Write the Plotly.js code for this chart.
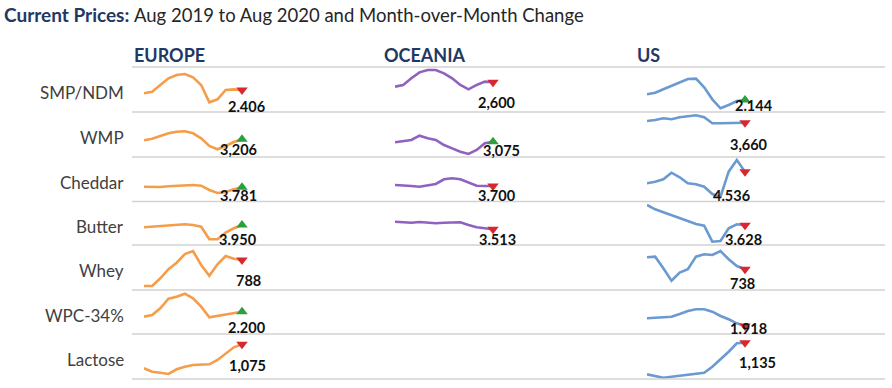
<!DOCTYPE html>
<html>
<head>
<meta charset="utf-8">
<script src="https://cdn.plot.ly/plotly-3.0.1.min.js"></script>
<style>
  html, body { margin: 0; padding: 0; background: #ffffff; }
  #chart { width: 892px; height: 388px; }
</style>
</head>
<body>
<div id="chart"></div>
<script>
// ---------------- DATA ----------------
const months = ['Aug-19','Sep-19','Oct-19','Nov-19','Dec-19','Jan-20','Feb-20','Mar-20','Apr-20','May-20','Jun-20','Jul-20','Aug-20'];
const products = ['SMP/NDM','WMP','Cheddar','Butter','Whey','WPC-34%','Lactose'];
const regions = ['EUROPE','OCEANIA','US'];

const europeSMP     = [2357, 2381, 2481, 2581, 2631, 2646, 2596, 2481, 2221, 2266, 2406, 2416, 2406];
const europeWMP     = [3191, 3215, 3256, 3296, 3320, 3326, 3296, 3221, 3106, 3056, 3106, 3166, 3206];
const europeCheddar = [3793, 3787, 3787, 3801, 3813, 3827, 3827, 3813, 3727, 3667, 3687, 3741, 3781];
const europeButter  = [3904, 3916, 3936, 3950, 3956, 3964, 3950, 3916, 3664, 3664, 3796, 3884, 3950];
const europeWhey    = [580, 580, 642, 714, 766, 836, 860, 748, 662, 754, 820, 798, 788];
const europeWPC     = [2100, 2134, 2268, 2460, 2500, 2560, 2468, 2300, 2088, 2114, 2140, 2168, 2200];
const europeLactose = [835, 801, 791, 778, 825, 851, 868, 868, 875, 918, 985, 1045, 1075];

const oceaniaSMP     = [2534, 2560, 2660, 2750, 2785, 2785, 2735, 2660, 2560, 2495, 2560, 2610, 2600];
const oceaniaWMP     = [3066, 3086, 3101, 3165, 3126, 3101, 3025, 2975, 2925, 2891, 2951, 3051, 3075];
const oceaniaCheddar = [3720, 3714, 3700, 3686, 3706, 3740, 3834, 3854, 3834, 3766, 3706, 3700, 3700];
const oceaniaButter  = [3665, 3653, 3645, 3659, 3645, 3633, 3645, 3645, 3653, 3599, 3553, 3533, 3513];

const usSMP     = [2230, 2254, 2305, 2358, 2418, 2459, 2464, 2334, 2154, 2020, 2069, 2129, 2144];
const usWMP     = [3686, 3700, 3726, 3711, 3741, 3760, 3771, 3741, 3651, 3651, 3651, 3660, 3660];
const usCheddar = [4304, 4336, 4384, 4516, 4424, 4304, 4284, 4236, 4090, 4036, 4536, 4770, 4536];
const usButter  = [4034, 3948, 3888, 3834, 3774, 3714, 3654, 3620, 3300, 3314, 3568, 3648, 3628];
const usWhey    = [834, 839, 746, 647, 711, 738, 839, 858, 852, 884, 818, 764, 738];
const usWPC     = [2072, 2084, 2092, 2104, 2158, 2218, 2252, 2252, 2204, 2118, 2052, 1972, 1918];
const usLactose = [819, 802, 785, 795, 805, 819, 829, 835, 895, 969, 1045, 1129, 1135];

const europeLabels  = ['2.406','3,206','3.781','3.950','788','2.200','1,075'];
const oceaniaLabels = ['2,600','3,075','3.700','3.513'];
const usLabels      = ['2.144','3,660','4.536','3.628','738','1.918','1,135'];

const europeChange  = ['down','up','up','up','down','up','down'];
const oceaniaChange = ['down','up','down','down'];
const usChange      = ['up','down','down','down','down','down','down'];

// ---------------- LAYOUT CONFIG ----------------
const W = 892, H = 388;
const colX = [[144, 242], [395, 493], [647, 745]];           // pixel x-extent of sparklines
const headerX = [133, 383, 636];
const rowBands = [[67,112],[112,157],[157,201.5],[201.5,245],[245,290],[290,334],[334,379]];
const sepY = [67, 112, 157, 201.5, 245, 290, 334, 379];
const lineColors = ['#F59D4A', '#9062C0', '#6A9AD0'];
const upColor = '#2BA03C', downColor = '#D7282F';

const yRanges = [
  [[2076,2751],[2940.5,3615.5],[3497,4387],[3550,4420],[548,908],[1754,2634],[728,1178]],
  [[2154,2830],[2845.5,3520.5],[3390,4280],[3199,4069]],
  [[1964,2639],[3145.5,3820.5],[3940,4830],[3234,4104],[572,932],[1758,2638],[772,1222]]
];
// label offsets (px) relative to the last point: [dx, dy-down]
const labelOffsets = [
  [[4.7,16],[-3.7,10.7],[-4,7.7],[-3.7,14.3],[6.3,20],[4.7,15.6],[5.3,20.7]],
  [[3.7,20.4],[8.7,8.3],[4.3,9],[4.3,10]],
  [[9,5.7],[4,21.6],[-13.3,23.3],[-1.7,14],[-2.3,14],[3.3,2.3],[12.7,19.6]]
];

const series = [
  [europeSMP, europeWMP, europeCheddar, europeButter, europeWhey, europeWPC, europeLactose],
  [oceaniaSMP, oceaniaWMP, oceaniaCheddar, oceaniaButter],
  [usSMP, usWMP, usCheddar, usButter, usWhey, usWPC, usLactose]
];
const labels = [europeLabels, oceaniaLabels, usLabels];
const changes = [europeChange, oceaniaChange, usChange];

const px = x => x / W;
const py = y => 1 - y / H;

const HEAD = 'Lato, Roboto, sans-serif';
const BODY = 'Lato, "Open Sans", sans-serif';

const traces = [];
const layout = {
  width: W, height: H,
  margin: {l: 0, r: 0, t: 0, b: 0},
  paper_bgcolor: '#ffffff', plot_bgcolor: 'rgba(0,0,0,0)',
  showlegend: false,
  shapes: [], annotations: []
};

let n = 0;
series.forEach((col, c) => {
  col.forEach((vals, r) => {
    n += 1;
    const xa = n === 1 ? 'x' : 'x' + n;
    const ya = n === 1 ? 'y' : 'y' + n;
    const xk = n === 1 ? 'xaxis' : 'xaxis' + n;
    const yk = n === 1 ? 'yaxis' : 'yaxis' + n;
    layout[xk] = {
      domain: [px(colX[c][0]), px(colX[c][1])], type: 'category',
      range: [0, months.length - 1], visible: false, fixedrange: true, anchor: ya
    };
    layout[yk] = {
      domain: [py(rowBands[r][1]), py(rowBands[r][0])],
      range: yRanges[c][r], visible: false, fixedrange: true, anchor: xa
    };
    traces.push({
      x: months, y: vals, xaxis: xa, yaxis: ya, type: 'scatter', mode: 'lines',
      line: {color: lineColors[c], width: 2.6}, cliponaxis: false, hoverinfo: 'skip'
    });
    const last = vals[vals.length - 1];
    const up = changes[c][r] === 'up';
    traces.push({
      x: [months[months.length - 1]], y: [last], xaxis: xa, yaxis: ya, type: 'scatter', mode: 'markers',
      marker: {symbol: up ? 'triangle-up' : 'triangle-down', size: 10, color: up ? upColor : downColor},
      cliponaxis: false, hoverinfo: 'skip'
    });
    layout.annotations.push({
      xref: xa, yref: ya, x: months[months.length - 1], y: last,
      xshift: labelOffsets[c][r][0], yshift: -labelOffsets[c][r][1],
      text: '<b>' + labels[c][r] + '</b>', showarrow: false,
      xanchor: 'center', yanchor: 'middle',
      font: {family: BODY, size: 14.5, color: '#111111'}
    });
  });
});

// separator lines
sepY.forEach(y => {
  layout.shapes.push({
    type: 'line', xref: 'paper', yref: 'paper',
    x0: px(132), x1: px(885), y0: py(y), y1: py(y),
    line: {color: '#D2D2D2', width: 1.6}
  });
});

// row labels
products.forEach((p, r) => {
  const yc = (rowBands[r][0] + rowBands[r][1]) / 2 + 3;
  layout.annotations.push({
    xref: 'paper', yref: 'paper', x: px(126), y: py(yc),
    xanchor: 'right', yanchor: 'middle', showarrow: false,
    text: p, font: {family: BODY, size: 17, color: '#404040'}
  });
});

// region headers
regions.forEach((g, c) => {
  layout.annotations.push({
    xref: 'paper', yref: 'paper', x: px(headerX[c] - 1), y: py(55),
    xanchor: 'left', yanchor: 'middle', showarrow: false,
    text: '<b>' + g + '</b>', font: {family: HEAD, size: 18, color: '#1F3864'}
  });
});

// title
layout.annotations.push({
  xref: 'paper', yref: 'paper', x: px(2), y: py(15),
  xanchor: 'left', yanchor: 'middle', showarrow: false,
  text: '<b>Current Prices:</b>', font: {family: HEAD, size: 19, color: '#1F3864'}
});
layout.annotations.push({
  xref: 'paper', yref: 'paper', x: px(132), y: py(15.5),
  xanchor: 'left', yanchor: 'middle', showarrow: false,
  text: 'Aug 2019 to Aug 2020 and Month-over-Month Change',
  font: {family: BODY, size: 18.5, color: '#262626'}
});

Plotly.newPlot('chart', traces, layout, {staticPlot: true, displayModeBar: false});
</script>
</body>
</html>
